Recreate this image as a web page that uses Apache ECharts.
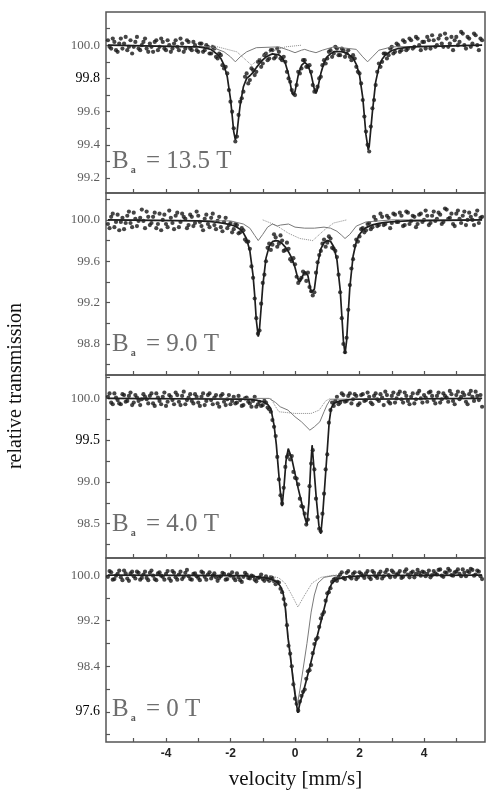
<!DOCTYPE html>
<html>
<head>
<meta charset="utf-8">
<title>relative transmission vs velocity</title>
<script src="https://cdn.jsdelivr.net/npm/echarts@6/dist/echarts.min.js"></script>
<style>
  html, body { margin: 0; padding: 0; background: #fff; }
  #chart { width: 486px; height: 796px; }
</style>
</head>
<body>
<div id="chart"></div>
<script>
// velocity channels [mm/s]
const vel = [
  -5.8, -5.75, -5.7, -5.65, -5.6, -5.55, -5.5, -5.45, -5.4, -5.35,
  -5.3, -5.25, -5.2, -5.15, -5.1, -5.05, -5.0, -4.95, -4.9, -4.85,
  -4.8, -4.75, -4.7, -4.65, -4.6, -4.55, -4.5, -4.45, -4.4, -4.35,
  -4.3, -4.25, -4.2, -4.15, -4.1, -4.05, -4.0, -3.95, -3.9, -3.85,
  -3.8, -3.75, -3.7, -3.65, -3.6, -3.55, -3.5, -3.45, -3.4, -3.35,
  -3.3, -3.25, -3.2, -3.15, -3.1, -3.05, -3.0, -2.95, -2.9, -2.85,
  -2.8, -2.75, -2.7, -2.65, -2.6, -2.55, -2.5, -2.45, -2.4, -2.35,
  -2.3, -2.25, -2.2, -2.15, -2.1, -2.05, -2.0, -1.95, -1.9, -1.85,
  -1.8, -1.75, -1.7, -1.65, -1.6, -1.55, -1.5, -1.45, -1.4, -1.35,
  -1.3, -1.25, -1.2, -1.15, -1.1, -1.05, -1.0, -0.95, -0.9, -0.85,
  -0.8, -0.75, -0.7, -0.65, -0.6, -0.55, -0.5, -0.45, -0.4, -0.35,
  -0.3, -0.25, -0.2, -0.15, -0.1, -0.05, 0.0, 0.05, 0.1, 0.15,
  0.2, 0.25, 0.3, 0.35, 0.4, 0.45, 0.5, 0.55, 0.6, 0.65,
  0.7, 0.75, 0.8, 0.85, 0.9, 0.95, 1.0, 1.05, 1.1, 1.15,
  1.2, 1.25, 1.3, 1.35, 1.4, 1.45, 1.5, 1.55, 1.6, 1.65,
  1.7, 1.75, 1.8, 1.85, 1.9, 1.95, 2.0, 2.05, 2.1, 2.15,
  2.2, 2.25, 2.3, 2.35, 2.4, 2.45, 2.5, 2.55, 2.6, 2.65,
  2.7, 2.75, 2.8, 2.85, 2.9, 2.95, 3.0, 3.05, 3.1, 3.15,
  3.2, 3.25, 3.3, 3.35, 3.4, 3.45, 3.5, 3.55, 3.6, 3.65,
  3.7, 3.75, 3.8, 3.85, 3.9, 3.95, 4.0, 4.05, 4.1, 4.15,
  4.2, 4.25, 4.3, 4.35, 4.4, 4.45, 4.5, 4.55, 4.6, 4.65,
  4.7, 4.75, 4.8, 4.85, 4.9, 4.95, 5.0, 5.05, 5.1, 5.15,
  5.2, 5.25, 5.3, 5.35, 5.4, 5.45, 5.5, 5.55, 5.6, 5.65,
  5.7, 5.75, 5.8
];

// measured transmission, one value per channel
const trans135 = [
  100.03, 99.99, 99.98, 100.04, 100.02, 99.97, 99.96, 100.01, 100.04, 99.98,
  100.01, 100.05, 99.97, 99.99, 100.03, 99.95, 99.99, 100.02, 100.05, 99.98,
  99.97, 100.00, 100.02, 100.04, 99.98, 99.96, 100.01, 99.99, 99.96, 100.02,
  100.03, 99.97, 99.99, 100.04, 100.02, 99.98, 99.97, 100.03, 100.00, 99.96,
  99.98, 100.01, 100.03, 99.99, 99.97, 100.04, 100.01, 99.96, 99.98, 100.03,
  100.02, 99.98, 99.97, 100.02, 100.00, 99.97, 99.96, 100.01, 100.01, 99.96,
  99.97, 100.00, 99.99, 99.95, 99.95, 99.99, 99.98, 99.93, 99.92, 99.95,
  99.94, 99.88, 99.86, 99.87, 99.83, 99.73, 99.66, 99.60, 99.50, 99.42,
  99.45, 99.58, 99.66, 99.68, 99.72, 99.81, 99.83, 99.77, 99.79, 99.86,
  99.85, 99.82, 99.84, 99.90, 99.91, 99.87, 99.89, 99.94, 99.95, 99.91,
  99.92, 99.97, 99.97, 99.92, 99.93, 99.98, 99.96, 99.92, 99.91, 99.93,
  99.90, 99.84, 99.80, 99.78, 99.73, 99.71, 99.70, 99.76, 99.84, 99.83,
  99.86, 99.91, 99.91, 99.87, 99.87, 99.88, 99.84, 99.76, 99.72, 99.73,
  99.75, 99.80, 99.81, 99.88, 99.91, 99.89, 99.92, 99.96, 99.97, 99.93,
  99.95, 99.99, 99.98, 99.94, 99.94, 99.98, 99.97, 99.93, 99.95, 99.97,
  99.93, 99.91, 99.94, 99.92, 99.87, 99.84, 99.83, 99.77, 99.67, 99.57,
  99.48, 99.40, 99.36, 99.51, 99.62, 99.67, 99.76, 99.84, 99.89, 99.87,
  99.90, 99.95, 99.95, 99.92, 99.94, 99.98, 99.99, 99.95, 99.96, 100.01,
  100.00, 99.96, 99.97, 100.03, 100.02, 99.97, 99.98, 100.04, 100.03, 99.98,
  99.99, 100.05, 100.04, 100.00, 99.97, 100.02, 100.02, 99.98, 100.05, 100.03,
  99.98, 100.06, 100.03, 99.99, 100.00, 100.04, 100.06, 100.01, 99.99, 100.07,
  100.04, 99.99, 100.01, 100.05, 99.97, 100.03, 100.05, 100.00, 100.02, 100.08,
  100.07, 100.00, 99.98, 100.05, 100.04, 99.99, 100.01, 100.07, 100.06, 100.00,
  99.97, 100.04, 100.03
];
const trans90 = [
  99.96, 99.92, 100.03, 100.06, 99.93, 99.98, 100.05, 99.90, 99.98, 100.02,
  99.91, 99.97, 100.04, 100.08, 99.97, 99.93, 100.07, 100.01, 99.94, 99.99,
  100.02, 100.10, 99.99, 99.92, 100.08, 100.03, 99.95, 99.97, 100.03, 100.07,
  99.92, 99.96, 100.06, 99.90, 100.00, 100.05, 99.96, 99.93, 100.09, 100.02,
  99.97, 99.91, 100.04, 100.07, 99.93, 99.98, 100.06, 100.03, 100.01, 99.92,
  99.95, 100.05, 100.03, 99.94, 99.97, 100.08, 100.04, 99.98, 99.94, 99.90,
  100.01, 100.05, 99.96, 99.93, 100.02, 100.06, 99.95, 99.91, 99.99, 100.03,
  99.93, 99.89, 99.98, 100.02, 99.92, 99.95, 99.97, 99.88, 99.91, 99.96,
  99.95, 99.87, 99.88, 99.92, 99.90, 99.81, 99.79, 99.79, 99.72, 99.55,
  99.44, 99.24, 99.05, 98.90, 98.93, 99.19, 99.39, 99.47, 99.60, 99.73,
  99.77, 99.71, 99.76, 99.86, 99.83, 99.74, 99.77, 99.85, 99.80, 99.70,
  99.71, 99.78, 99.72, 99.62, 99.60, 99.63, 99.57, 99.45, 99.39, 99.42,
  99.44, 99.50, 99.48, 99.41, 99.49, 99.35, 99.31, 99.27, 99.30, 99.49,
  99.59, 99.66, 99.70, 99.77, 99.81, 99.74, 99.78, 99.84, 99.82, 99.73,
  99.72, 99.70, 99.64, 99.47, 99.30, 99.05, 98.80, 98.72, 98.86, 99.13,
  99.37, 99.53, 99.62, 99.75, 99.81, 99.79, 99.84, 99.91, 99.92, 99.88,
  99.90, 99.96, 99.97, 99.91, 99.93, 100.03, 100.00, 99.94, 99.95, 100.06,
  100.03, 99.95, 99.96, 100.04, 100.02, 99.92, 99.97, 100.06, 100.05, 99.98,
  99.98, 100.07, 100.04, 99.94, 99.95, 100.08, 100.07, 99.96, 99.99, 100.04,
  100.03, 99.93, 99.96, 100.05, 100.06, 99.98, 100.00, 100.09, 100.04, 99.95,
  99.97, 100.04, 100.08, 99.99, 100.01, 100.07, 100.05, 99.96, 99.98, 100.11,
  100.10, 100.01, 100.02, 100.06, 99.96, 99.94, 100.06, 100.09, 100.01, 99.97,
  100.04, 100.08, 99.95, 100.00, 100.07, 100.03, 100.00, 99.95, 100.05, 100.09,
  99.97, 100.02, 100.03
];
const trans40 = [
  100.02, 100.06, 99.95, 99.93, 100.06, 100.01, 99.98, 99.94, 99.93, 100.05,
  100.04, 99.96, 99.97, 100.03, 100.07, 99.92, 99.95, 100.04, 100.01, 99.97,
  99.92, 99.99, 100.05, 100.02, 99.99, 99.94, 100.03, 100.06, 99.94, 99.91,
  100.06, 100.01, 99.97, 99.93, 100.02, 100.07, 99.91, 99.96, 100.04, 100.02,
  99.98, 99.93, 100.07, 100.04, 99.96, 99.92, 100.03, 100.08, 99.93, 99.98,
  100.01, 100.05, 99.97, 99.94, 100.05, 100.02, 99.95, 99.91, 100.02, 100.06,
  99.92, 99.97, 100.04, 100.06, 99.98, 99.93, 100.01, 100.04, 99.94, 99.90,
  100.03, 100.05, 99.96, 99.92, 99.99, 100.04, 99.93, 99.97, 100.02, 99.94,
  99.95, 100.03, 99.98, 99.91, 99.92, 100.00, 100.01, 99.96, 99.94, 99.90,
  99.97, 100.02, 99.90, 99.93, 99.96, 99.91, 99.92, 99.97, 99.95, 99.89,
  99.87, 99.84, 99.74, 99.66, 99.55, 99.30, 99.03, 98.84, 98.74, 98.93,
  99.18, 99.30, 99.33, 99.27, 99.31, 99.12, 99.05, 99.04, 98.97, 98.80,
  98.71, 98.70, 98.62, 98.49, 98.55, 98.95, 99.22, 99.38, 99.15, 98.80,
  98.58, 98.44, 98.41, 98.62, 98.86, 99.15, 99.33, 99.71, 99.86, 99.95,
  99.91, 99.97, 100.02, 99.93, 99.95, 100.06, 100.04, 99.96, 99.97, 100.03,
  100.06, 99.94, 99.99, 100.05, 100.03, 99.92, 99.94, 100.04, 100.05, 99.97,
  99.98, 100.07, 100.02, 99.95, 99.93, 100.03, 100.06, 99.99, 99.97, 100.05,
  100.01, 99.92, 100.08, 100.04, 99.96, 99.94, 100.03, 100.07, 99.95, 100.00,
  100.05, 100.08, 99.99, 99.95, 100.07, 100.03, 99.97, 99.93, 100.02, 100.06,
  99.94, 99.99, 100.06, 100.09, 100.00, 99.95, 100.04, 100.01, 99.96, 100.07,
  100.08, 100.03, 99.98, 99.94, 100.03, 100.07, 99.95, 99.99, 100.06, 100.03,
  100.01, 99.96, 100.09, 100.05, 99.97, 99.93, 100.04, 100.08, 99.99, 100.02,
  100.07, 100.04, 99.96, 99.93, 100.05, 100.09, 100.02, 99.97, 100.08, 100.03,
  99.98, 100.04, 99.90
];
const trans0 = [
  99.97, 100.07, 100.05, 99.92, 99.93, 99.99, 100.02, 100.08, 99.96, 99.91,
  100.08, 100.03, 99.94, 99.90, 100.03, 100.06, 99.98, 99.94, 100.06, 100.04,
  99.92, 99.95, 100.01, 100.06, 99.95, 99.91, 100.04, 100.08, 99.99, 99.93,
  99.91, 100.03, 100.05, 99.99, 99.97, 99.92, 100.02, 100.07, 99.94, 99.90,
  100.07, 100.04, 99.96, 99.92, 100.01, 100.06, 99.93, 99.97, 100.04, 100.09,
  99.98, 99.93, 99.92, 100.02, 100.03, 99.98, 99.95, 99.91, 100.06, 100.04,
  99.97, 99.92, 100.01, 100.05, 99.94, 99.99, 100.03, 99.96, 99.90, 99.95,
  99.98, 100.04, 100.02, 99.92, 99.93, 100.01, 99.99, 100.05, 99.95, 99.91,
  100.03, 99.96, 99.91, 99.88, 99.97, 100.04, 100.01, 99.95, 99.94, 99.99,
  99.98, 99.92, 99.89, 99.95, 99.96, 100.01, 99.93, 99.90, 99.98, 99.93,
  99.90, 99.96, 99.95, 99.89, 99.84, 99.88, 99.87, 99.76, 99.70, 99.58,
  99.48, 99.12, 98.76, 98.62, 98.40, 98.08, 97.83, 97.74, 97.62, 97.78,
  97.88, 97.95, 97.99, 98.18, 98.31, 98.33, 98.42, 98.63, 98.79, 98.87,
  98.90, 99.09, 99.24, 99.31, 99.35, 99.55, 99.68, 99.70, 99.77, 99.88,
  99.92, 99.94, 99.90, 99.97, 100.01, 100.05, 99.95, 99.93, 100.04, 100.07,
  99.97, 99.94, 100.02, 100.05, 99.93, 99.96, 100.05, 100.02, 99.99, 99.95,
  100.03, 100.07, 99.96, 99.93, 100.07, 100.04, 99.98, 99.95, 100.02, 100.06,
  99.94, 99.98, 100.05, 100.09, 100.00, 99.96, 100.08, 100.05, 99.97, 100.01,
  100.03, 100.07, 99.95, 99.97, 100.06, 100.10, 100.01, 99.96, 100.04, 100.06,
  99.96, 100.02, 100.09, 100.04, 99.99, 100.06, 100.05, 99.98, 100.02, 100.08,
  99.96, 100.00, 100.07, 100.03, 100.01, 100.09, 100.10, 99.99, 99.97, 100.05,
  100.04, 100.11, 100.08, 100.00, 99.99, 100.05, 100.06, 100.10, 100.02, 99.98,
  100.10, 100.04, 99.98, 100.07, 100.05, 100.11, 100.09, 99.99, 100.01, 100.08,
  100.06, 99.98, 99.93
];

// fitted curves [velocity, transmission]
const fit135 = [
  [-5.8, 100], [-3.2, 99.99], [-3.0, 99.99], [-2.8, 99.984], [-2.6, 99.974], [-2.4, 99.943],
  [-2.3, 99.92], [-2.2, 99.88], [-2.1, 99.81], [-2.0, 99.675], [-1.95, 99.58], [-1.9, 99.48],
  [-1.85, 99.43], [-1.8, 99.47], [-1.75, 99.56], [-1.7, 99.64], [-1.6, 99.75], [-1.5, 99.80],
  [-1.4, 99.816], [-1.3, 99.836], [-1.2, 99.865], [-1.1, 99.89], [-1.0, 99.912], [-0.9, 99.929],
  [-0.8, 99.94], [-0.7, 99.948], [-0.6, 99.945], [-0.5, 99.942], [-0.4, 99.926], [-0.3, 99.892],
  [-0.2, 99.823], [-0.1, 99.721], [-0.05, 99.70], [0.0, 99.72], [0.1, 99.82], [0.2, 99.878],
  [0.3, 99.896], [0.4, 99.88], [0.5, 99.824], [0.6, 99.734], [0.65, 99.71], [0.7, 99.738],
  [0.8, 99.829], [0.9, 99.896], [1.0, 99.931], [1.1, 99.948], [1.2, 99.961], [1.4, 99.962],
  [1.6, 99.954], [1.8, 99.922], [1.9, 99.885], [2.0, 99.82], [2.1, 99.685], [2.2, 99.46],
  [2.27, 99.37], [2.3, 99.39], [2.4, 99.60], [2.5, 99.778], [2.6, 99.868], [2.7, 99.915],
  [2.8, 99.941], [3.0, 99.968], [3.2, 99.98], [3.6, 99.99], [5.8, 100]
];
const comp135 = [
  [-5.8, 100], [-2.6, 99.99], [-2.2, 99.96], [-2.0, 99.93], [-1.85, 99.90], [-1.7, 99.93],
  [-1.5, 99.96], [-1.2, 99.985], [-0.5, 99.99], [-0.2, 99.97], [0.0, 99.955], [0.2, 99.97],
  [0.3, 99.975], [0.45, 99.965], [0.65, 99.955], [0.85, 99.97], [1.2, 99.99], [1.9, 99.975],
  [2.1, 99.93], [2.25, 99.90], [2.4, 99.93], [2.6, 99.97], [3.0, 99.99], [5.8, 100]
];
const dot135 = [
  [-2.6, 100], [-1.8, 99.96], [-1.35, 99.88], [-0.9, 99.95], [-0.3, 99.99], [0.2, 100]
];

const fit90 = [
  [-5.8, 100], [-3.0, 99.99], [-2.6, 99.983], [-2.4, 99.975], [-2.2, 99.967], [-2.0, 99.953],
  [-1.9, 99.943], [-1.8, 99.928], [-1.7, 99.908], [-1.6, 99.874], [-1.5, 99.815], [-1.4, 99.70],
  [-1.3, 99.46], [-1.25, 99.27], [-1.2, 99.03], [-1.14, 98.87], [-1.1, 98.95], [-1.05, 99.15],
  [-1.0, 99.36], [-0.9, 99.63], [-0.8, 99.744], [-0.7, 99.79], [-0.6, 99.80], [-0.5, 99.794],
  [-0.4, 99.772], [-0.3, 99.737], [-0.2, 99.69], [-0.1, 99.63], [0.0, 99.54], [0.1, 99.42],
  [0.15, 99.40], [0.2, 99.41], [0.3, 99.50], [0.4, 99.46], [0.5, 99.30], [0.53, 99.29],
  [0.6, 99.33], [0.7, 99.57], [0.8, 99.72], [0.9, 99.78], [1.0, 99.80], [1.1, 99.793],
  [1.2, 99.74], [1.3, 99.613], [1.4, 99.326], [1.45, 99.08], [1.5, 98.83], [1.55, 98.705],
  [1.6, 98.833], [1.65, 99.10], [1.7, 99.35], [1.8, 99.648], [1.9, 99.789], [2.0, 99.859],
  [2.1, 99.90], [2.2, 99.925], [2.4, 99.952], [2.6, 99.967], [2.8, 99.976], [3.0, 99.982],
  [3.5, 99.99], [5.8, 100]
];
const comp90 = [
  [-5.8, 100], [-2.0, 99.99], [-1.6, 99.96], [-1.4, 99.92], [-1.25, 99.85], [-1.14, 99.80],
  [-1.0, 99.86], [-0.85, 99.93], [-0.7, 99.96], [-0.55, 99.94], [-0.45, 99.95], [-0.2, 99.96],
  [0.0, 99.93], [0.3, 99.92], [0.6, 99.92], [0.9, 99.93], [1.1, 99.92], [1.3, 99.89],
  [1.45, 99.85], [1.55, 99.82], [1.7, 99.86], [1.9, 99.94], [2.2, 99.98], [3.0, 100], [5.8, 100]
];
const dot90 = [
  [-1.0, 100], [-0.6, 99.95], [-0.2, 99.87], [0.15, 99.82], [0.55, 99.80], [0.9, 99.9],
  [1.2, 99.97], [1.6, 100]
];

const fit40 = [
  [-5.8, 100], [-1.6, 99.99], [-1.2, 99.98], [-1.0, 99.96], [-0.85, 99.93], [-0.75, 99.88],
  [-0.65, 99.68], [-0.58, 99.45], [-0.52, 99.17], [-0.46, 98.90], [-0.40, 98.71], [-0.34, 98.95],
  [-0.28, 99.25], [-0.21, 99.40], [-0.1, 99.28], [0.0, 99.10], [0.1, 98.92], [0.2, 98.76],
  [0.3, 98.58], [0.37, 98.49], [0.43, 98.75], [0.48, 99.15], [0.53, 99.44], [0.59, 99.15],
  [0.66, 98.80], [0.74, 98.48], [0.8, 98.38], [0.86, 98.62], [0.93, 99.00], [1.0, 99.38],
  [1.06, 99.72], [1.12, 99.88], [1.2, 99.94], [1.4, 99.97], [1.8, 99.99], [5.8, 100]
];
const comp40 = [
  [-5.8, 100], [-0.8, 100], [-0.6, 99.95], [-0.46, 99.9], [-0.22, 99.86], [0.0, 99.78],
  [0.2, 99.72], [0.46, 99.62], [0.6, 99.66], [0.77, 99.72], [0.9, 99.84], [0.99, 99.92],
  [1.1, 99.99], [5.8, 100]
];
const dot40 = [
  [-0.75, 100], [-0.6, 99.9], [-0.5, 99.84], [0.0, 99.82], [0.5, 99.82], [0.75, 99.86],
  [0.95, 99.97], [1.1, 100]
];

const fit0 = [
  [-5.8, 100], [-1.6, 99.99], [-1.0, 99.96], [-0.7, 99.92], [-0.55, 99.87], [-0.45, 99.80],
  [-0.37, 99.69], [-0.3, 99.42], [-0.22, 98.91], [-0.14, 98.55], [-0.06, 98.16], [0.02, 97.82],
  [0.09, 97.58], [0.15, 97.75], [0.25, 97.93], [0.35, 98.15], [0.46, 98.39], [0.57, 98.65],
  [0.68, 98.91], [0.76, 99.09], [0.84, 99.26], [0.92, 99.45], [0.99, 99.61], [1.07, 99.77],
  [1.15, 99.86], [1.3, 99.93], [1.6, 99.97], [2.2, 99.99], [5.8, 100]
];
const comp0 = [
  [-1.0, 99.97], [-0.5, 99.84], [-0.37, 99.71], [-0.3, 99.45], [-0.22, 98.95], [-0.14, 98.6],
  [-0.06, 98.22], [0.02, 97.9], [0.08, 97.75], [0.15, 97.98], [0.25, 98.35], [0.37, 98.8],
  [0.5, 99.35], [0.6, 99.65], [0.71, 99.86], [0.9, 99.96], [1.3, 100]
];
const dot0 = [
  [-0.8, 99.99], [-0.5, 99.95], [-0.31, 99.86], [-0.1, 99.65], [0.09, 99.44], [0.3, 99.65],
  [0.53, 99.86], [0.8, 99.96], [1.2, 100]
];

// axis ticks and labels
const velTicks = [-5, -4, -3, -2, -1, 0, 1, 2, 3, 4, 5];
const velLabels = [-4, -2, 0, 2, 4];
const yTicks135 = [99.2, 99.3, 99.4, 99.5, 99.6, 99.7, 99.8, 99.9, 100.0, 100.1];
const yLabels135 = [99.2, 99.4, 99.6, 99.8, 100.0];
const yTicks90 = [98.6, 98.8, 99.0, 99.2, 99.4, 99.6, 99.8, 100.0, 100.2];
const yLabels90 = [98.8, 99.2, 99.6, 100.0];
const yTicks40 = [98.25, 98.5, 98.75, 99.0, 99.25, 99.5, 99.75, 100.0, 100.25];
const yLabels40 = [98.5, 99.0, 99.5, 100.0];
const yTicks0 = [97.2, 97.6, 98.0, 98.4, 98.8, 99.2, 99.6, 100.0];
const yLabels0 = [97.6, 98.4, 99.2, 100.0];

const fieldNames = ['13.5 T', '9.0 T', '4.0 T', '0 T'];

const panels = [
  {meas: trans135, fit: fit135, comp: comp135, dot: dot135, yMin: 99.11, yMax: 100.2,
    ticks: yTicks135, labels: yLabels135, top: 12, height: 181, dark: '99.8', bTop: 147},
  {meas: trans90, fit: fit90, comp: comp90, dot: dot90, yMin: 98.5, yMax: 100.26,
    ticks: yTicks90, labels: yLabels90, top: 193, height: 182, dark: '', bTop: 330},
  {meas: trans40, fit: fit40, comp: comp40, dot: dot40, yMin: 98.09, yMax: 100.28,
    ticks: yTicks40, labels: yLabels40, top: 375, height: 183, dark: '99.5', bTop: 510},
  {meas: trans0, fit: fit0, comp: comp0, dot: dot0, yMin: 97.07, yMax: 100.3,
    ticks: yTicks0, labels: yLabels0, top: 558, height: 184, dark: '97.6', bTop: 695}
];

const serif = '"Liberation Serif", "DejaVu Serif", serif';

const chart = echarts.init(document.getElementById('chart'));

const grids = [], xAxes = [], yAxes = [], series = [], titles = [];

panels.forEach((p, i) => {
  const last = i === panels.length - 1;
  grids.push({
    left: 106, width: 379, top: p.top, height: p.height,
    show: true, borderColor: '#555', borderWidth: 1.5, backgroundColor: 'transparent'
  });
  xAxes.push({
    type: 'value', gridIndex: i, min: -5.86, max: 5.89,
    axisLine: {show: false, onZero: false},
    splitLine: {show: false},
    axisTick: {show: true, inside: true, length: 4, customValues: velTicks,
      lineStyle: {color: '#555', width: 1.2}},
    axisLabel: {show: last, customValues: velLabels, margin: 6,
      fontFamily: '"Liberation Sans", Arial, sans-serif', fontWeight: 'bold',
      fontSize: 12, color: '#222'},
    name: last ? 'velocity [mm/s]' : '',
    nameLocation: 'middle', nameGap: 27,
    nameTextStyle: {fontFamily: serif, fontSize: 21, color: '#111'}
  });
  yAxes.push({
    type: 'value', gridIndex: i, min: p.yMin, max: p.yMax,
    axisLine: {show: false, onZero: false},
    splitLine: {show: false},
    axisTick: {show: true, inside: true, length: 4, customValues: p.ticks,
      lineStyle: {color: '#555', width: 1.2}},
    axisLabel: {
      customValues: p.labels, margin: 6, fontFamily: serif, fontSize: 13, color: '#5e5e5e',
      formatter: v => {
        const s = v.toFixed(1);
        return s === p.dark ? '{k|' + s + '}' : s;
      },
      rich: {k: {fontFamily: serif, fontSize: 14, color: '#000'}}
    }
  });
  series.push({
    type: 'scatter', xAxisIndex: i, yAxisIndex: i,
    data: vel.map((v, k) => [v, p.meas[k]]),
    symbol: 'circle', symbolSize: 4.2,
    itemStyle: {color: '#161616'}, z: 2, silent: true
  });
  series.push({
    type: 'line', xAxisIndex: i, yAxisIndex: i, data: p.dot,
    showSymbol: false, lineStyle: {color: '#8c8c8c', width: 1, type: 'dotted'}, z: 3, silent: true
  });
  series.push({
    type: 'line', xAxisIndex: i, yAxisIndex: i, data: p.comp,
    showSymbol: false, lineStyle: {color: '#7a7a7a', width: 1}, z: 3, silent: true
  });
  series.push({
    type: 'line', xAxisIndex: i, yAxisIndex: i, data: p.fit,
    showSymbol: false, lineStyle: {color: '#1e1e1e', width: 1.7}, z: 4, silent: true
  });
  titles.push({
    left: 112, top: p.bTop, padding: 0,
    text: '{b|B}{s|a}{b| = ' + fieldNames[i] + '}',
    textStyle: {
      fontWeight: 'normal',
      rich: {
        b: {fontFamily: serif, fontSize: 25, fontWeight: 'normal', color: '#6e6e6e'},
        s: {fontFamily: serif, fontSize: 10, fontWeight: 'bold', color: '#555', padding: [18, 4, 0, 2]}
      }
    }
  });
});

chart.setOption({
  animation: false,
  backgroundColor: '#fff',
  title: titles,
  grid: grids,
  xAxis: xAxes,
  yAxis: yAxes,
  series: series,
  graphic: [{
    type: 'text', x: 16, y: 386, rotation: Math.PI / 2,
    style: {
      text: 'relative transmission', font: '20px "Liberation Serif"', fill: '#111',
      textAlign: 'center', textVerticalAlign: 'middle', align: 'center', verticalAlign: 'middle'
    }
  }]
});
</script>
</body>
</html>
